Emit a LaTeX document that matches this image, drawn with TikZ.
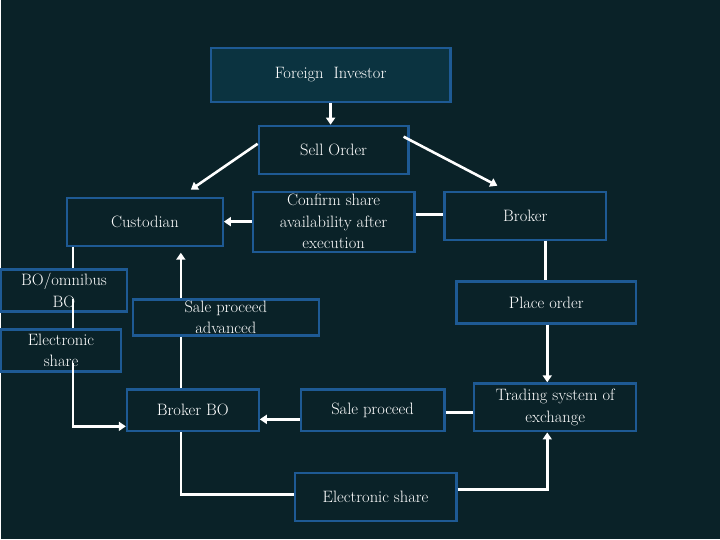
\documentclass[tikz,border=0pt]{standalone}
\usetikzlibrary{arrows.meta,calc}
\definecolor{bg}{HTML}{0A2228}
\definecolor{bx}{HTML}{1E5A94}
\definecolor{fi}{HTML}{0B3340}
\begin{document}
\begin{tikzpicture}[x=1pt,y=-1pt,
  box/.style={draw=bx,line width=2.2pt,fill=bg,text=white,align=center,font=\fontsize{16.5}{21.5}\selectfont,inner sep=0pt},
  con/.style={draw=white,line width=2.6pt},
  arr/.style={con,-{Triangle[length=7pt,width=9pt]}}]
\fill[bg] (0,0) rectangle (720,540);
\newcommand\bxat[6]{\node[box,fill=#6,minimum width={#4-#2},minimum height={#5-#3}] (#1) at ({(#2+#4)/2},{(#3+#5)/2})}
\bxat{fi}{210}{48}{450}{102}{fi}{Foreign\ \ Investor};
\bxat{so}{258}{126}{408}{174}{bg}{Sell Order};
\bxat{cu}{66}{198}{222}{246}{bg}{Custodian};
\bxat{cf}{252}{192}{414}{252}{bg}{Confirm share\\availability after\\execution};
\bxat{br}{444}{192}{606}{240}{bg}{Broker};
\bxat{bo}{0}{270}{126}{312}{bg}{BO/omnibus\\BO};
\bxat{es}{0}{330}{120}{372}{bg}{Electronic\\share};
\bxat{spa}{132}{300}{318}{336}{bg}{Sale proceed\\advanced};
\bxat{po}{456}{282}{636}{324}{bg}{Place order};
\bxat{bbo}{126}{390}{258}{432}{bg}{Broker BO};
\bxat{sp}{300}{390}{444}{432}{bg}{Sale proceed};
\bxat{ts}{474}{384}{636}{432}{bg}{Trading system of\\exchange};
\bxat{eb}{294}{474}{456}{522}{bg}{Electronic share};
\coordinate (c1) at (190,190);
\coordinate (c2) at (497,186);
\draw[arr] (fi.south -| 330,0) -- (so.north -| 330,0);
\draw[arr] (so.west |- 0,144) -- (c1);
\draw[arr] ($(so.north east)+(-6,12)$) -- (c2);
\draw[arr] (cf.west |- 0,222) -- (cu.east |- 0,222);
\draw[con] (cf.east |- 0,215) -- (br.west |- 0,215);
\draw[con] (br.south -| 545,0) -- (po.north -| 545,0);
\draw[arr] (po.south -| 547,0) -- (ts.north -| 547,0);
\draw[arr] (sp.west |- 0,420) -- (bbo.east |- 0,420);
\draw[con] (sp.east |- 0,413) -- (ts.west |- 0,413);
\draw[con] (bbo.south -| 180,0) -- (180,495) -- (eb.west |- 0,495);
\draw[arr] (eb.east |- 0,490) -- (547,490) -- (ts.south -| 547,0);
\draw[con] (bbo.north -| 180,0) -- (spa.south -| 180,0);
\draw[arr] (spa.north -| 180,0) -- ($(cu.south -| 180,0)+(0,6)$);
\draw[con] (cu.south -| 72,0) -- (bo.north -| 72,0);
\draw[con] ($(bo.south -| 72,0)+(0,-14)$) -- (es.north -| 72,0);
\draw[arr] ($(es.south -| 72,0)+(0,-10)$) -- (72,427) -- (bbo.west |- 0,427);
\end{tikzpicture}
\end{document}
